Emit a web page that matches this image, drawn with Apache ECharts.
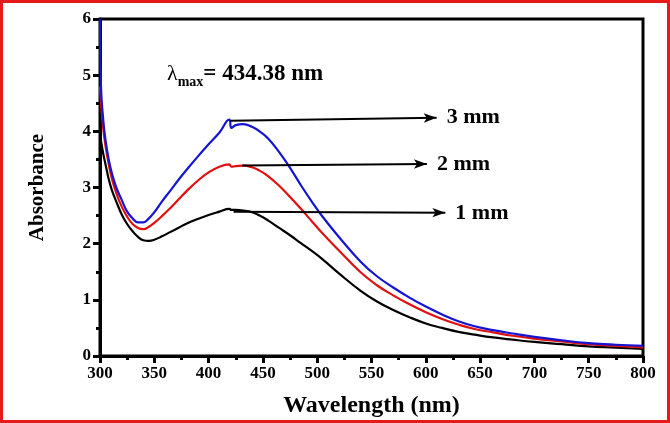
<!DOCTYPE html>
<html>
<head>
<meta charset="utf-8">
<script src="https://cdn.jsdelivr.net/npm/echarts@6/dist/echarts.min.js"></script>
<style>
html,body{margin:0;padding:0;background:#fff;}
#wrap{position:relative;width:670px;height:423px;}
#chart{width:670px;height:423px;}
#frame{position:absolute;left:0;top:0;width:670px;height:423px;box-sizing:border-box;border:3px solid #e51a1a;pointer-events:none;}
</style>
</head>
<body>
<div id="wrap"><div id="chart"></div><div id="frame"></div></div>
<script>
var wavelength = [300, 301, 303, 305, 308, 311, 315, 320, 325, 330, 335, 340, 345, 350, 357, 365, 372, 380, 390, 400, 410, 419, 421, 425, 432, 440, 447, 455, 465, 475, 485, 495, 505, 520, 540, 555, 570, 585, 600, 615, 630, 645, 662, 680, 700, 725, 750, 775, 800];
var abs3mm = [6.0, 4.75, 4.2, 3.85, 3.5, 3.25, 3.0, 2.78, 2.57, 2.45, 2.38, 2.38, 2.45, 2.56, 2.75, 2.95, 3.13, 3.32, 3.55, 3.77, 3.98, 4.21, 4.06, 4.11, 4.13, 4.08, 4.0, 3.87, 3.63, 3.35, 3.04, 2.75, 2.48, 2.12, 1.68, 1.42, 1.22, 1.04, 0.88, 0.74, 0.62, 0.53, 0.46, 0.40, 0.34, 0.28, 0.23, 0.2, 0.18];
var abs2mm = [4.8, 4.5, 4.05, 3.75, 3.42, 3.15, 2.9, 2.66, 2.48, 2.35, 2.28, 2.26, 2.3, 2.37, 2.49, 2.64, 2.78, 2.94, 3.12, 3.27, 3.37, 3.41, 3.37, 3.38, 3.39, 3.36, 3.3, 3.2, 3.03, 2.83, 2.62, 2.4, 2.18, 1.88, 1.49, 1.26, 1.08, 0.92, 0.78, 0.66, 0.56, 0.48, 0.42, 0.36, 0.31, 0.26, 0.21, 0.18, 0.155];
var abs1mm = [3.95, 3.82, 3.6, 3.42, 3.15, 2.95, 2.75, 2.52, 2.35, 2.22, 2.12, 2.06, 2.05, 2.07, 2.13, 2.21, 2.28, 2.36, 2.44, 2.51, 2.57, 2.62, 2.6, 2.6, 2.59, 2.56, 2.5, 2.41, 2.28, 2.15, 2.01, 1.87, 1.72, 1.47, 1.16, 0.97, 0.82, 0.69, 0.58, 0.5, 0.43, 0.38, 0.33, 0.29, 0.25, 0.21, 0.17, 0.15, 0.125];
var seriesNames = ['3 mm', '2 mm', '1 mm'];
var seriesColors = ['#1414d2', '#e01010', '#000000'];
// arrow annotations: [start wavelength, start abs, end wavelength, end abs]
var arrow3mm = [420, 4.19, 610, 4.24];
var arrow2mm = [431, 3.39, 601, 3.42];
var arrow1mm = [423, 2.57, 618, 2.55];
var xTicks = {min: 300, max: 800, interval: 50};
var yTicks = {min: 0, max: 6, interval: 1};
var lambdaText = '434.38 nm';

var FONT = '"Liberation Serif", "Times New Roman", serif';

function pairs(ys) {
  return wavelength.map(function (w, i) { return [w, ys[i]]; });
}
function arrowLine(a, label) {
  return {
    silent: true,
    symbol: ['none', 'arrow'],
    symbolSize: [7, 13],
    lineStyle: {color: '#000', width: 2, type: 'solid'},
    label: {show: true, position: 'end', distance: 10, formatter: label, color: '#000',
      fontFamily: FONT, fontWeight: 'bold', fontSize: 22},
    data: [[{coord: [a[0], a[1]]}, {coord: [a[2], a[3]]}]]
  };
}

var allData = [abs3mm, abs2mm, abs1mm];
var arrows = [arrow3mm, arrow2mm, arrow1mm];
var series = allData.map(function (d, i) {
  return {
    name: seriesNames[i],
    type: 'line',
    data: pairs(d),
    showSymbol: false,
    smooth: 0.45,
    lineStyle: {color: seriesColors[i], width: 2.2},
    z: 3 - i,
    markLine: arrowLine(arrows[i], seriesNames[i])
  };
});

var chart = echarts.init(document.getElementById('chart'), null, {renderer: 'canvas'});
chart.setOption({
  animation: false,
  backgroundColor: '#fff',
  grid: {left: 100, right: 27, top: 19, bottom: 67, show: true, borderColor: '#000', borderWidth: 3, backgroundColor: 'transparent'},
  xAxis: {
    type: 'value', min: xTicks.min, max: xTicks.max, interval: xTicks.interval,
    name: 'Wavelength (nm)', nameLocation: 'middle', nameGap: 38,
    nameTextStyle: {fontFamily: FONT, fontWeight: 'bold', fontSize: 24, color: '#000'},
    axisLine: {show: true, lineStyle: {color: '#000', width: 3}},
    axisTick: {show: true, inside: false, length: 7, lineStyle: {color: '#000', width: 3}},
    minorTick: {show: true, splitNumber: 2, length: 4, lineStyle: {color: '#000', width: 3}},
    axisLabel: {fontFamily: FONT, fontWeight: 'bold', fontSize: 17, color: '#000', margin: 9},
    splitLine: {show: false}
  },
  yAxis: {
    type: 'value', min: yTicks.min, max: yTicks.max, interval: yTicks.interval,
    name: 'Absorbance', nameLocation: 'middle', nameGap: 52, nameRotate: 90,
    nameTextStyle: {fontFamily: FONT, fontWeight: 'bold', fontSize: 21, color: '#000'},
    axisLine: {show: true, lineStyle: {color: '#000', width: 3}},
    axisTick: {show: true, inside: false, length: 7, lineStyle: {color: '#000', width: 3}},
    minorTick: {show: true, splitNumber: 2, length: 4, lineStyle: {color: '#000', width: 3}},
    axisLabel: {fontFamily: FONT, fontWeight: 'bold', fontSize: 17, color: '#000', margin: 9},
    splitLine: {show: false}
  },
  series: series,
  graphic: [
    {
      type: 'text', left: 167, top: 63, z: 10,
      style: {
        text: '{a|λ}{b|max}{c|= ' + lambdaText + '}',
        rich: {
          a: {fontFamily: FONT, fontSize: 22, color: '#000'},
          b: {fontFamily: FONT, fontSize: 14, fontWeight: 'bold', color: '#000', padding: [15, 0, 0, 0]},
          c: {fontFamily: FONT, fontSize: 23, fontWeight: 'bold', color: '#000'}
        }
      }
    }
  ]
});
</script>
</body>
</html>
